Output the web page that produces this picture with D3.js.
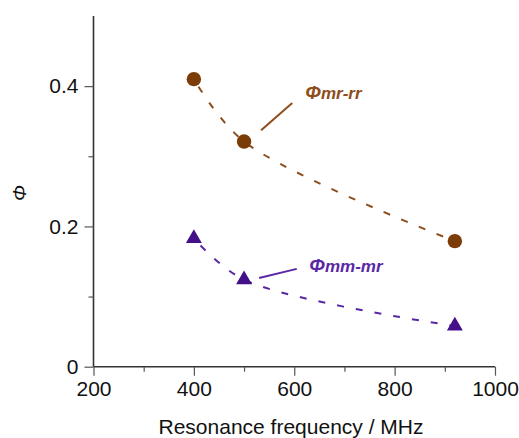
<!DOCTYPE html>
<meta charset="utf-8">
<script src="https://d3js.org/d3.v7.min.js"></script>
<style>
body{margin:0;background:#fff;}
text{font-family:"Liberation Sans",Arial,sans-serif;}
</style>
<body>
<div id="svg"></div>
<script>
// data
var freq = [400, 500, 920];
var phiMrRr = [0.410, 0.321, 0.179];
var phiMmMr = [0.183, 0.124, 0.058];
var xTicks = [200, 400, 600, 800, 1000];
var xMinor = [300, 500, 700, 900];
var yTicks = [0, 0.2, 0.4];
var yMinor = [0.1, 0.3];

var W = 519, H = 438;
var brown = '#7c3c08', brownLine = '#8e4d1c';
var purple = '#43108a', purpleLine = '#5a28a6';

var svg = d3.select('#svg').append('svg').attr('width', W).attr('height', H);
var x = d3.scaleLinear().domain([200, 1000]).range([93.5, 495]);
var y = d3.scaleLinear().domain([0, 0.5]).range([366.7, 16]);

// axes
var ax = svg.append('g').attr('transform', 'translate(0,' + y(0) + ')');
ax.call(d3.axisBottom(x).tickValues(xTicks).tickSize(9).tickPadding(5).tickFormat(d3.format('d')));
ax.append('g').call(d3.axisBottom(x).tickValues(xMinor).tickSize(5).tickFormat(''));
var ay = svg.append('g').attr('transform', 'translate(' + x(200) + ',0)');
ay.call(d3.axisLeft(y).tickValues(yTicks).tickSize(9).tickPadding(6).tickFormat(function(d){return d===0?'0':d3.format('.1f')(d);}));
ay.append('g').call(d3.axisLeft(y).tickValues(yMinor).tickSize(5).tickFormat(''));
svg.selectAll('.domain').attr('stroke', '#333').attr('stroke-width', 1.6);
svg.selectAll('.domain').filter(function(){return this.parentNode.parentNode!==svg.node();}).remove();
svg.selectAll('.tick line').attr('stroke', '#555').attr('stroke-width', 1.2);
svg.selectAll('.tick text').attr('font-size', 21).attr('fill', '#111')
  .style('font-family', '"Liberation Sans",Arial,sans-serif');
ay.selectAll('.domain').attr('d', 'M0,' + y(0) + 'V' + y(0.5));
ax.selectAll('.domain').attr('d', 'M' + x(200) + ',0H' + x(1000));

// axis titles
svg.append('text').attr('x', 291).attr('y', 434).attr('text-anchor', 'middle')
  .attr('font-size', 21).attr('fill', '#111').text('Resonance frequency / MHz');
svg.append('text').attr('transform', 'translate(26,193) rotate(-90)').attr('text-anchor', 'middle')
  .attr('font-size', 19).attr('font-style', 'italic').attr('fill', '#111').text('Φ');

// dashed trend curves through the points
var lineGen = d3.line().x(function(d){return x(d[0]);}).y(function(d){return y(d[1]);}).curve(d3.curveCatmullRom.alpha(0.5));
function pairs(v){return freq.map(function(f,i){return [f, v[i]];});}
svg.append('path').attr('d', lineGen(pairs(phiMrRr))).attr('fill', 'none')
  .attr('stroke', brownLine).attr('stroke-width', 2).attr('stroke-dasharray', '7,12').attr('stroke-dashoffset', -9);
svg.append('path').attr('d', lineGen(pairs(phiMmMr))).attr('fill', 'none')
  .attr('stroke', purpleLine).attr('stroke-width', 2).attr('stroke-dasharray', '7,12').attr('stroke-dashoffset', -10);

// markers
svg.selectAll('circle.mr').data(pairs(phiMrRr)).enter().append('circle')
  .attr('cx', function(d){return x(d[0]);}).attr('cy', function(d){return y(d[1]);})
  .attr('r', 7.2).attr('fill', brown);
var tri = d3.symbol().type(d3.symbolTriangle).size(110);
svg.selectAll('path.mm').data(pairs(phiMmMr)).enter().append('path')
  .attr('d', tri).attr('fill', purple)
  .attr('transform', function(d){return 'translate(' + x(d[0]) + ',' + y(d[1]) + ')';});

// annotations (data units)
svg.append('line').attr('x1', x(534)).attr('y1', y(0.337)).attr('x2', x(596)).attr('y2', y(0.376))
  .attr('stroke', brownLine).attr('stroke-width', 2);
var t1 = svg.append('text').attr('x', x(622)).attr('y', y(0.381)).attr('fill', brownLine)
  .attr('font-weight', 'bold').attr('font-style', 'italic');
t1.append('tspan').attr('font-size', 19).text('Φ');
t1.append('tspan').attr('font-size', 17).text('mr-rr');

svg.append('line').attr('x1', x(530)).attr('y1', y(0.1265)).attr('x2', x(605)).attr('y2', y(0.1395))
  .attr('stroke', purpleLine).attr('stroke-width', 2);
var t2 = svg.append('text').attr('x', x(630)).attr('y', y(0.135)).attr('fill', purpleLine)
  .attr('font-weight', 'bold').attr('font-style', 'italic');
t2.append('tspan').attr('font-size', 19).text('Φ');
t2.append('tspan').attr('font-size', 17).text('mm-mr');
</script>
</body>
